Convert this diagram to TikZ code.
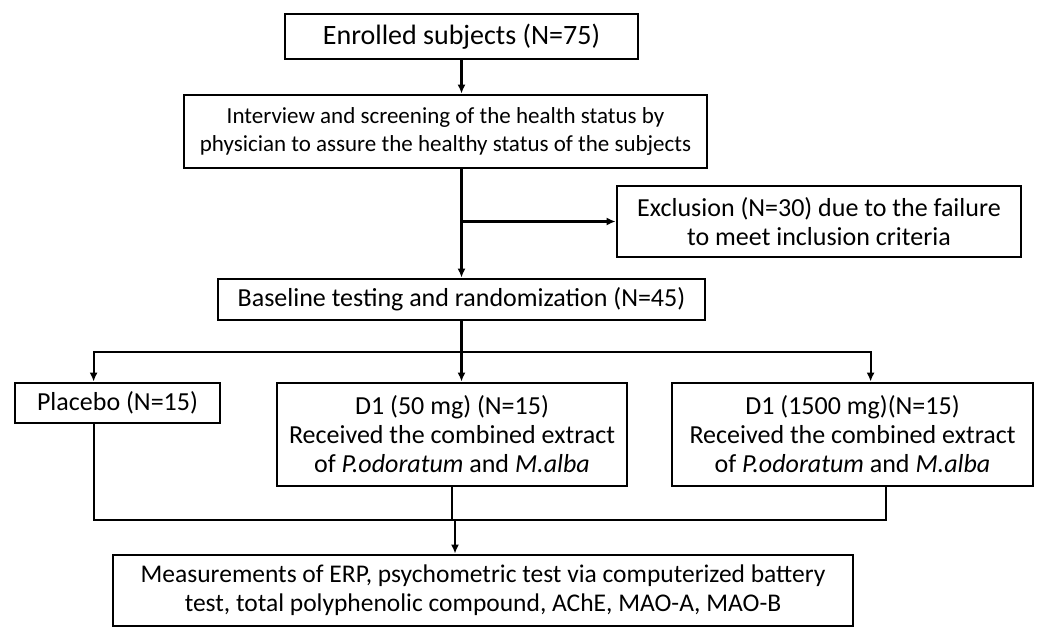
\documentclass[tikz,border=0pt]{standalone}
\usepackage{fontspec}
\setmainfont{Carlito}
\usepackage{tikz}
\usetikzlibrary{positioning, arrows.meta}

\tikzset{
  box/.style = {draw, line width=2.8pt, align=center, inner sep=0pt, font=\fontsize{26}{29}\selectfont},
  >={Latex[length=9pt,width=8pt]}
}

\begin{document}
\begin{tikzpicture}[x=1pt, y=-1pt, line width=2.2pt]
\useasboundingbox (0,0) rectangle (1040,628);
\node[box, minimum width=353pt, minimum height=45pt, font=\fontsize{28}{32}\selectfont] (enrolled) at (461.5,36.5) {Enrolled subjects (N=75)};
\node[box, minimum width=523pt, minimum height=73pt, font=\fontsize{23}{28}\selectfont] (interview) at (445.5,131.5) {Interview and screening of the health status by\\physician to assure the healthy status of the subjects};
\node[box, minimum width=404pt, minimum height=71pt] (exclusion) at (819,221.5) {Exclusion (N=30) due to the failure\\to meet inclusion criteria};
\node[box, minimum width=487pt, minimum height=41pt] (baseline) at (461.5,299.5) {Baseline testing and randomization (N=45)};
\node[box, minimum width=205pt, minimum height=40pt] (placebo) at (117.5,403) {Placebo (N=15)};
\node[box, minimum width=350pt, minimum height=103pt] (lowdose) at (452,434.5) {D1 (50 mg) (N=15)\\Received the combined extract\\of \textit{P.odoratum} and \textit{M.alba}};
\node[box, minimum width=361pt, minimum height=103pt] (highdose) at (852.5,434.5) {D1 (1500 mg)(N=15)\\Received the combined extract\\of \textit{P.odoratum} and \textit{M.alba}};
\node[box, minimum width=740pt, minimum height=71pt, font=\fontsize{25.5}{29}\selectfont] (measure) at (483,590.5) {Measurements of ERP, psychometric test via computerized battery\\test, total polyphenolic compound, AChE, MAO-A, MAO-B};
\coordinate (split) at (461.5,352);
\coordinate (join) at (455,520);
\draw[->] (enrolled.south) -- (enrolled.south |- interview.north); % enrolled to screening
\draw[->] (baseline.north |- interview.south) -- (baseline.north); % screening to baseline
\draw[->] (baseline.north |- exclusion.west) -- (exclusion.west); % excluded
\draw (baseline.south) -- (split);
\draw[->] (split) -| ([xshift=80pt]placebo.north west);
\draw[->] (split) -| ([xshift=200pt]highdose.north west);
\draw[->] (split) -- (split |- lowdose.north);
\draw ([xshift=80pt]placebo.south west) |- (join) -| ([xshift=215pt]highdose.south west); % groups merge
\draw (lowdose.south) -- (lowdose.south |- join);
\draw[->] (join) -- (join |- measure.north);
\end{tikzpicture}
\end{document}
